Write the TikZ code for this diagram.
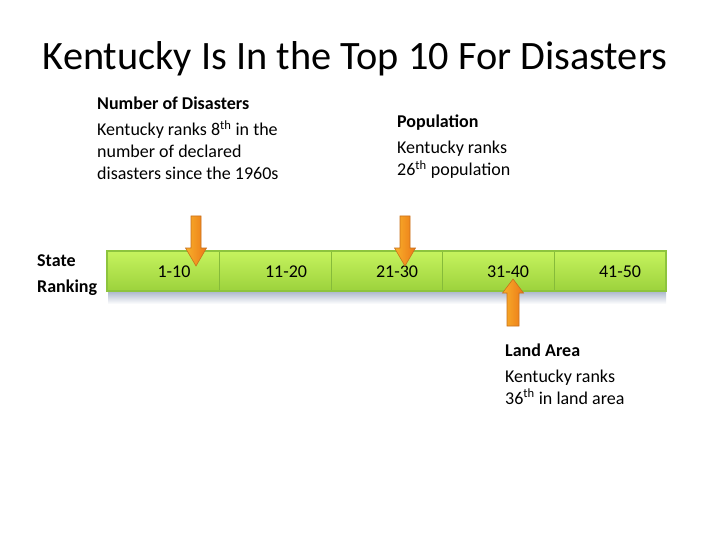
\documentclass[tikz,border=0pt]{standalone}
\usepackage{fontspec}
\setmainfont{Carlito}
\usetikzlibrary{calc}
\definecolor{bartop}{HTML}{C6F35E}
\definecolor{barbot}{HTML}{9CD23C}
\definecolor{barline}{HTML}{8DC43E}
\definecolor{divline}{HTML}{86BB3A}
\definecolor{shadowtop}{HTML}{A9B5CB}
\definecolor{arrowl}{HTML}{F8B02A}
\definecolor{arrowr}{HTML}{EC7818}
\definecolor{arrowedge}{HTML}{C9701C}
\tikzset{
  body/.style={anchor=base west, inner sep=0pt, font=\fontsize{18}{22}\selectfont},
  head/.style={body, font=\fontsize{18}{22}\selectfont\bfseries},
  barlabel/.style={anchor=base, inner sep=0pt, font=\fontsize{18}{22}\selectfont},
  blockarrow/.style={left color=arrowl, right color=arrowr, draw=arrowedge, line width=0.6pt, line join=miter},
}
\begin{document}
\begin{tikzpicture}[x=1pt,y=-1pt]
\useasboundingbox (0,0) rectangle (720,540);
\fill[white] (0,0) rectangle (720,540);
% title
\node[anchor=base, inner sep=0pt, font=\fontsize{40.3}{46}\selectfont] (title) at (355,70) {Kentucky Is In the Top 10 For Disasters};
% shadow and bar
\shade[top color=shadowtop, bottom color=white] (108,291) rectangle (666,304);
\shade[top color=bartop, bottom color=barbot, draw=barline, line width=1.2pt] (107,251) rectangle (666,291);
\foreach \xx in {219,331,442,554}
  \draw[divline, line width=1pt] (\xx,252) -- (\xx,290);
% bar labels
\node[barlabel] (r1) at (174,277) {1-10};
\node[barlabel] (r2) at (286,277) {11-20};
\node[barlabel] (r3) at (397,277) {21-30};
\node[barlabel] (r4) at (508,277) {31-40};
\node[barlabel] (r5) at (620,277) {41-50};
% State ranking
\node[head] (st1) at (37,266) {State};
\node[head] (st2) at (37,292) {Ranking};
% Number of disasters
\node[head] (d0) at (97,110) {Number of Disasters};
\node[body] (d1) at (97,136) {Kentucky ranks 8\textsuperscript{th} in the};
\node[body] (d2) at (97,158) {number of declared};
\node[body] (d3) at (97,180) {disasters since the 1960s};
% Population
\node[head] (p0) at (397,128) {Population};
\node[body] (p1) at (397,154) {Kentucky ranks};
\node[body] (p2) at (397,176) {26\textsuperscript{th} population};
% Land area
\node[head] (l0) at (505,356) {Land Area};
\node[body] (l1) at (505,382) {Kentucky ranks};
\node[body] (l2) at (505,404) {36\textsuperscript{th} in land area};
% arrows
\foreach \cx in {196,405}
  \draw[blockarrow] (\cx-5,216) -- (\cx+5,216) -- (\cx+5,248) -- (\cx+10.5,248) -- (\cx,266) -- (\cx-10.5,248) -- (\cx-5,248) -- cycle;
\draw[blockarrow] (507,326) -- (519,326) -- (519,293) -- (523.5,293) -- (513,279) -- (502.5,293) -- (507,293) -- cycle;
\end{tikzpicture}
\end{document}
